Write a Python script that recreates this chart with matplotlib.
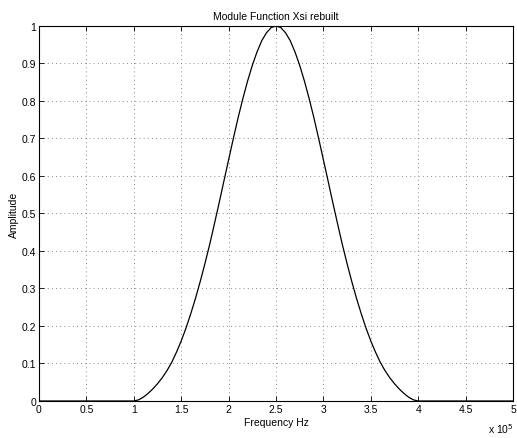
import numpy as np
import matplotlib.pyplot as plt
from matplotlib.ticker import FuncFormatter, MultipleLocator

# frequency in Hz, amplitude
freq = [0, 1.00e5, 1.05e5, 1.10e5, 1.15e5, 1.20e5, 1.25e5, 1.30e5, 1.35e5, 1.40e5, 1.45e5,
        1.50e5, 1.55e5, 1.60e5, 1.65e5, 1.70e5, 1.75e5, 1.80e5, 1.85e5, 1.90e5, 1.95e5,
        2.00e5, 2.05e5, 2.10e5, 2.15e5, 2.20e5, 2.25e5, 2.30e5, 2.35e5, 2.40e5, 2.45e5,
        2.50e5, 2.55e5, 2.60e5, 2.65e5, 2.70e5, 2.75e5, 2.80e5, 2.85e5, 2.90e5, 2.95e5,
        3.00e5, 3.05e5, 3.10e5, 3.15e5, 3.20e5, 3.25e5, 3.30e5, 3.35e5, 3.40e5, 3.45e5,
        3.50e5, 3.55e5, 3.60e5, 3.65e5, 3.70e5, 3.75e5, 3.80e5, 3.85e5, 3.90e5, 3.95e5,
        4.00e5, 5.00e5]
amplitude = [0, 0.000, 0.003, 0.010, 0.020, 0.032, 0.046, 0.062, 0.081, 0.103, 0.130,
             0.160, 0.194, 0.232, 0.273, 0.318, 0.366, 0.417, 0.472, 0.528, 0.586,
             0.643, 0.700, 0.755, 0.806, 0.853, 0.895, 0.931, 0.961, 0.982, 0.996,
             1.000, 0.996, 0.982, 0.961, 0.931, 0.895, 0.853, 0.806, 0.755, 0.700,
             0.643, 0.586, 0.528, 0.472, 0.417, 0.366, 0.318, 0.273, 0.232, 0.194,
             0.160, 0.130, 0.103, 0.081, 0.062, 0.046, 0.032, 0.020, 0.010, 0.003,
             0.000, 0]

plt.rcParams['font.family'] = ['Liberation Sans', 'DejaVu Sans']
plt.rcParams['font.size'] = 7.5

fig = plt.figure(figsize=(5.17, 4.39), dpi=100)
ax = fig.add_axes([0.0754, 0.0843, 0.9169, 0.8542])

ax.plot(freq, amplitude, color='black', lw=0.9)

ax.set_xlim(0, 5e5)
ax.set_ylim(0, 1)
ax.xaxis.set_major_locator(MultipleLocator(0.5e5))
ax.yaxis.set_major_locator(MultipleLocator(0.1))
ax.xaxis.set_major_formatter(FuncFormatter(lambda v, p: ('%g' % (v / 1e5))))
ax.yaxis.set_major_formatter(FuncFormatter(lambda v, p: ('%g' % round(v, 2))))
ax.tick_params(direction='in', length=3.5, width=0.6, top=True, right=True, pad=2)

ax.grid(True, ls=(0, (1, 4)), color='#666666', lw=0.6)
for s in ax.spines.values():
    s.set_linewidth(0.8)

ax.set_title('Module Function Xsi rebuilt', fontsize=7.5, pad=5)
ax.set_xlabel('Frequency Hz', labelpad=2)
ax.set_ylabel('Amplitude', labelpad=2)
fig.text(0.993, 0.012, 'x 10$^5$', fontsize=7.5, ha='right')

fig.savefig('out.png', dpi=100)
